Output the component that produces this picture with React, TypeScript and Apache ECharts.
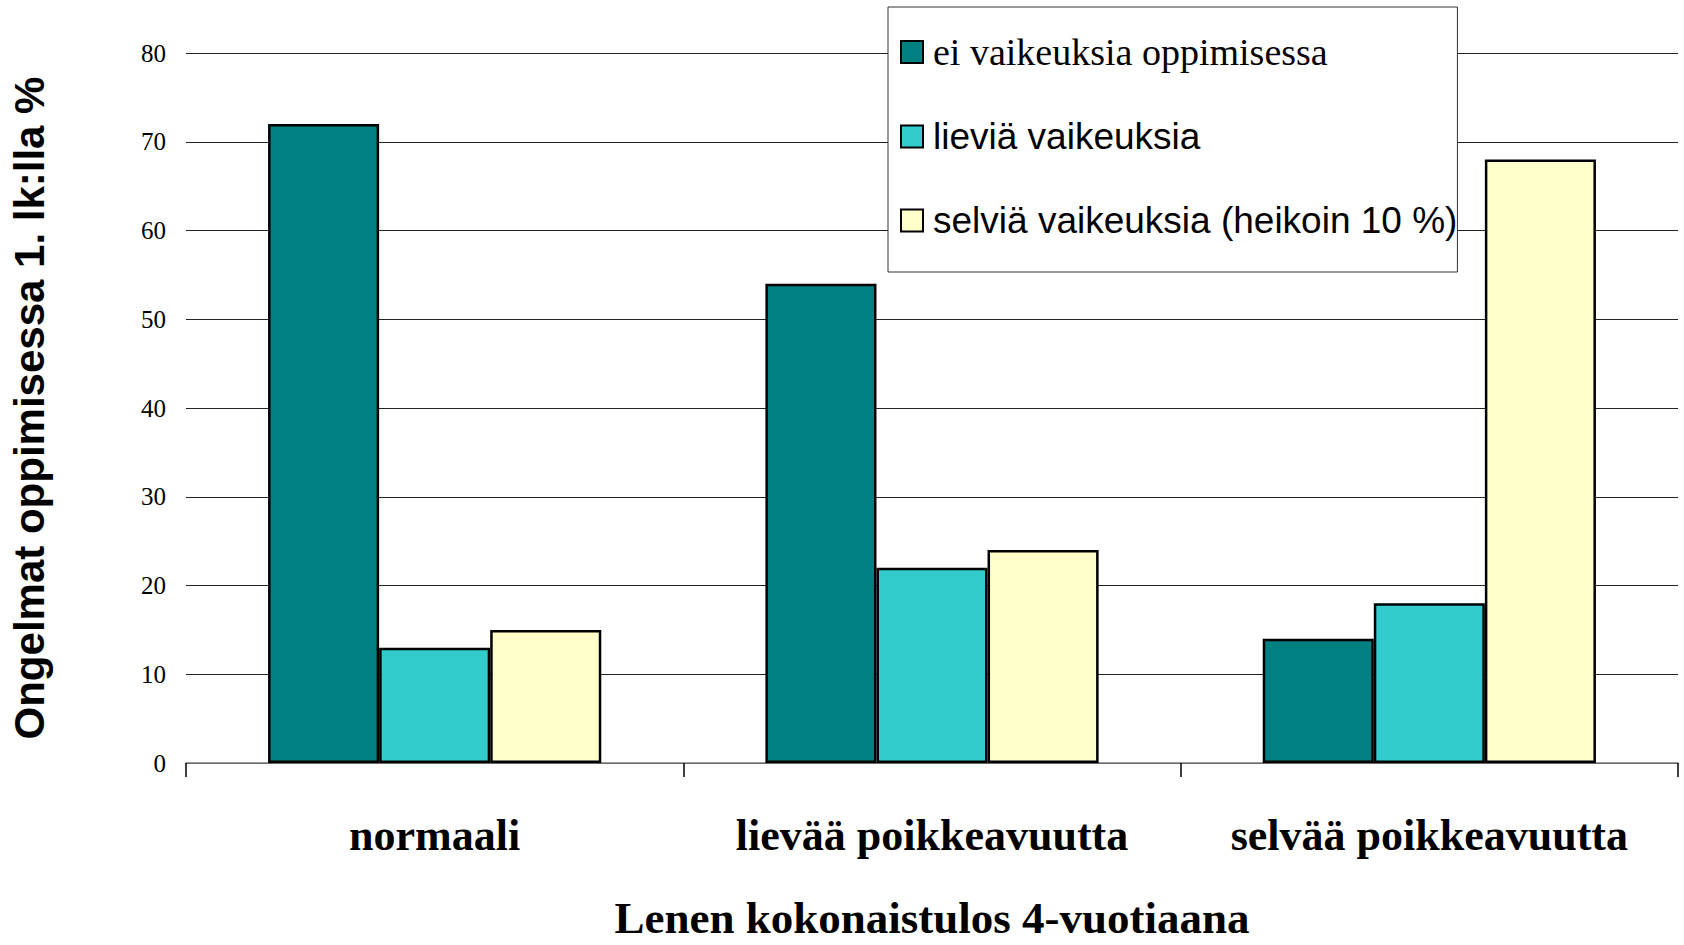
import React, { useEffect, useRef } from "react";
import * as echarts from "echarts";

const categories = ["normaali", "lievää poikkeavuutta", "selvää poikkeavuutta"];
const seriesNames = [
  "ei vaikeuksia oppimisessa",
  "lieviä vaikeuksia",
  "selviä vaikeuksia (heikoin 10 %)",
];
const noDifficulty = [72, 54, 14];
const mildDifficulty = [13, 22, 18];
const clearDifficulty = [15, 24, 68];
const colors = ["#008080", "#33CCCC", "#FFFFCC"];
const yTicks = { min: 0, max: 80, interval: 10 };

const serif = "'Liberation Serif', 'Times New Roman', serif";
const sans = "'Liberation Sans', Arial, sans-serif";

export default function App() {
  const ref = useRef<HTMLDivElement>(null);
  useEffect(() => {
    if (!ref.current) return;
    const chart = echarts.init(ref.current, undefined, { renderer: "svg" });
    const values = [noDifficulty, mildDifficulty, clearDifficulty];
    chart.setOption({
      animation: false,
      backgroundColor: "#ffffff",
      grid: { left: 186, right: 6, top: 53, bottom: 175 },
      legend: {
        orient: "vertical",
        left: 888,
        top: 7,
        padding: [26, 0, 33, 12],
        itemGap: 47,
        itemWidth: 22,
        itemHeight: 22,
        backgroundColor: "#ffffff",
        borderColor: "#333333",
        borderWidth: 1,
        icon: "rect",
        data: [
          {
            name: seriesNames[0],
            textStyle: { fontFamily: serif, fontSize: 38, color: "#000", padding: [0, 0, 0, 5] },
          },
          {
            name: seriesNames[1],
            textStyle: { fontFamily: sans, fontSize: 37, color: "#000", padding: [0, 0, 0, 5] },
          },
          {
            name: seriesNames[2],
            textStyle: { fontFamily: sans, fontSize: 37, color: "#000", padding: [0, 0, 0, 5] },
          },
        ],
      },
      xAxis: {
        type: "category",
        data: categories,
        name: "Lenen kokonaistulos 4-vuotiaana",
        nameLocation: "middle",
        nameGap: 132,
        nameTextStyle: { fontFamily: serif, fontSize: 45, fontWeight: "bold", color: "#000" },
        axisLine: { lineStyle: { color: "#808080", width: 1.5 } },
        axisTick: { show: true, interval: 0, length: 14, lineStyle: { color: "#000", width: 1.5 } },
        axisLabel: {
          interval: 0,
          margin: 50,
          fontFamily: serif,
          fontSize: 44,
          fontWeight: "bold",
          color: "#000",
        },
      },
      yAxis: {
        type: "value",
        min: yTicks.min,
        max: yTicks.max,
        interval: yTicks.interval,
        name: "Ongelmat oppimisessa 1. lk:lla %",
        nameLocation: "middle",
        nameRotate: 90,
        nameGap: 136,
        nameTextStyle: { fontFamily: sans, fontSize: 42, fontWeight: "bold", color: "#000" },
        axisLine: { show: false },
        axisTick: { show: false },
        axisLabel: { margin: 20, fontFamily: serif, fontSize: 25, color: "#000" },
        splitLine: { lineStyle: { color: "#222222", width: 1 } },
      },
      series: seriesNames.map((name, i) => ({
        name,
        type: "bar",
        data: values[i],
        barGap: "0%",
        barCategoryGap: "33%",
        itemStyle: { color: colors[i], borderColor: "#000", borderWidth: 2.5 },
      })),
    });
    return () => chart.dispose();
  }, []);
  return (
    <div
      ref={ref}
      style={{ position: "fixed", left: 0, top: 0, width: 1684, height: 945 }}
    />
  );
}
